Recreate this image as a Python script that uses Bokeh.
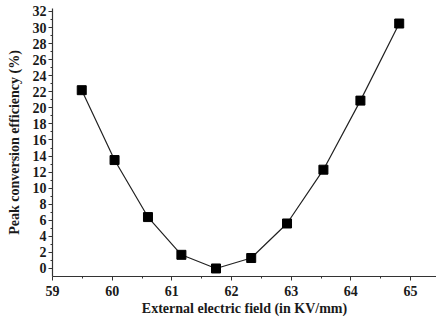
from bokeh.plotting import figure
from bokeh.models import Range1d, FixedTicker
from bokeh.embed import file_html
from bokeh.resources import INLINE

field = [59.49, 60.04, 60.60, 61.16, 61.74, 62.33, 62.93, 63.54, 64.16, 64.81]
efficiency = [22.2, 13.5, 6.4, 1.7, 0.0, 1.3, 5.6, 12.3, 20.9, 30.5]
x_ticks = [59, 60, 61, 62, 63, 64, 65]
y_ticks = list(range(0, 33, 2))

p = figure(width=436, height=320, output_backend="svg", toolbar_location=None,
           x_range=Range1d(59, 65.435), y_range=Range1d(-1, 32.37),
           min_border_left=52, min_border_right=0, min_border_top=8, min_border_bottom=44)
p.outline_line_color = None
p.xgrid.visible = False
p.ygrid.visible = False
p.background_fill_color = "white"
p.border_fill_color = "white"

p.line(field, efficiency, line_color="#222222", line_width=1.2)
p.scatter(field, efficiency, marker="square", size=9, fill_color="black", line_color="black")

font = "Liberation Serif"
for ax in (p.xaxis[0], p.yaxis[0]):
    ax.axis_line_color = "#333333"
    ax.axis_line_width = 1.2
    ax.major_tick_line_color = "#333333"
    ax.minor_tick_line_color = "#333333"
    ax.major_tick_out = 4
    ax.major_tick_in = 0
    ax.minor_tick_out = 2
    ax.minor_tick_in = 0
    ax.major_label_text_font = font
    ax.major_label_text_font_style = "bold"
    ax.major_label_text_font_size = "14px"
    ax.major_label_text_color = "#1a1a1a"
    ax.axis_label_text_font = font
    ax.axis_label_text_font_style = "bold"
    ax.axis_label_text_font_size = "14px"
    ax.axis_label_text_color = "#1a1a1a"

p.xaxis.ticker = FixedTicker(ticks=x_ticks, minor_ticks=[v + 0.5 for v in x_ticks])
p.yaxis.ticker = FixedTicker(ticks=y_ticks, minor_ticks=[v + 1 for v in y_ticks])
p.xaxis.axis_label = "External electric field (in KV/mm)"
p.yaxis.axis_label = "Peak conversion efficiency (%)"
p.xaxis.major_label_standoff = 5
p.xaxis.axis_label_standoff = 2
p.yaxis.major_label_standoff = 2
p.yaxis.axis_label_standoff = 8

open("out.html", "w").write(file_html(p, INLINE))
